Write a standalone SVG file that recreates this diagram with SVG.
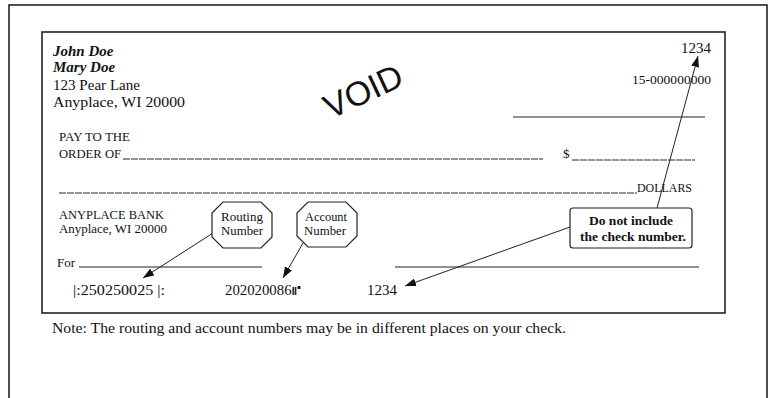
<svg xmlns="http://www.w3.org/2000/svg" width="775" height="398" viewBox="0 0 775 398">
<style>
text{font-family:"Liberation Serif","Times New Roman",serif;fill:#111}
.frame{fill:none;stroke:#222;stroke-width:1.6}
.rule{stroke:#222;stroke-width:1}
.ul{stroke:#222;stroke-width:1;stroke-dasharray:7 1}
.oct{fill:#fff;stroke:#222;stroke-width:1.2}
.conn{stroke:#222;stroke-width:1;fill:none;marker-end:url(#ah)}
.bi{font-weight:bold;font-style:italic}
.b{font-weight:bold}
</style>
<defs>
<marker id="ah" markerUnits="userSpaceOnUse" markerWidth="12" markerHeight="8" refX="11" refY="4" orient="auto">
<path d="M0,0 L11,4 L0,8 z" fill="#111"/>
</marker>
</defs>
<rect class="frame" x="9" y="5" width="758" height="420"/>
<g id="check">
<rect class="frame" x="42" y="32" width="683" height="281"/>
<text class="bi" x="53" y="56" font-size="15">John Doe</text>
<text class="bi" x="53" y="72" font-size="15">Mary Doe</text>
<text x="53" y="90" font-size="15" textLength="87" lengthAdjust="spacingAndGlyphs">123 Pear Lane</text>
<text x="53" y="107" font-size="15" textLength="132" lengthAdjust="spacingAndGlyphs">Anyplace, WI 20000</text>
<text transform="translate(363,91) rotate(-25)" x="0" y="12" font-size="34" text-anchor="middle" style="font-family:'Liberation Sans',Arial,sans-serif">VOID</text>
<text x="711" y="53" font-size="15" text-anchor="end">1234</text>
<text x="632" y="84" font-size="12" textLength="79" lengthAdjust="spacingAndGlyphs">15-000000000</text>
<line class="rule" x1="513" y1="117" x2="705" y2="117"/>
<text x="59" y="141" font-size="12.5" textLength="71" lengthAdjust="spacingAndGlyphs">PAY TO THE</text>
<text x="59" y="158" font-size="12.5" textLength="62" lengthAdjust="spacingAndGlyphs">ORDER OF</text>
<line class="ul" x1="123" y1="159" x2="543" y2="159"/>
<text x="563" y="158" font-size="13">$</text>
<line class="ul" x1="572" y1="160" x2="695" y2="160"/>
<line class="ul" x1="59" y1="193" x2="637" y2="193"/>
<text x="637" y="192" font-size="12.5" textLength="55" lengthAdjust="spacingAndGlyphs">DOLLARS</text>
<text x="59" y="219" font-size="12" textLength="105" lengthAdjust="spacingAndGlyphs">ANYPLACE BANK</text>
<text x="59" y="233" font-size="12.5" textLength="108" lengthAdjust="spacingAndGlyphs">Anyplace, WI 20000</text>
<text x="57" y="267" font-size="13">For</text>
<line class="rule" x1="79" y1="267" x2="262" y2="267"/>
<line class="rule" x1="395" y1="267" x2="699" y2="267"/>
<text x="73" y="295" font-size="14" textLength="92" lengthAdjust="spacingAndGlyphs">|:250250025 |:</text>
<text x="225" y="295" font-size="14" textLength="75" lengthAdjust="spacingAndGlyphs">202020086⑈</text>
<text x="367" y="295" font-size="14" textLength="30" lengthAdjust="spacingAndGlyphs">1234</text>
</g>
<g id="connectors">
<line class="conn" x1="213" y1="233" x2="143" y2="278"/>
<line class="conn" x1="303" y1="243" x2="283" y2="278"/>
<line class="conn" x1="570" y1="227" x2="405" y2="286"/>
<line class="conn" x1="657" y1="208" x2="698" y2="56"/>
</g>
<g id="routing">
<polygon class="oct" points="223,202 261,202 272,213 272,237 261,248 223,248 212,237 212,213"/>
<text x="242" y="221" font-size="12.5" text-anchor="middle" textLength="42" lengthAdjust="spacingAndGlyphs">Routing</text>
<text x="242" y="235" font-size="12.5" text-anchor="middle" textLength="42" lengthAdjust="spacingAndGlyphs">Number</text>
</g>
<g id="account">
<polygon class="oct" points="308,202 346,202 357,213 357,236 346,247 308,247 297,236 297,213"/>
<text x="326" y="221" font-size="12.5" text-anchor="middle" textLength="42" lengthAdjust="spacingAndGlyphs">Account</text>
<text x="325" y="235" font-size="12.5" text-anchor="middle" textLength="42" lengthAdjust="spacingAndGlyphs">Number</text>
</g>
<g id="callout">
<rect x="570" y="208" width="122" height="40" rx="3" fill="#fff" stroke="#222" stroke-width="1.2"/>
<text class="b" x="631" y="225" font-size="12.5" text-anchor="middle" textLength="84" lengthAdjust="spacingAndGlyphs">Do not include</text>
<text class="b" x="633" y="241" font-size="12.5" text-anchor="middle" textLength="106" lengthAdjust="spacingAndGlyphs">the check number.</text>
</g>
<text x="52" y="333" font-size="14" textLength="514" lengthAdjust="spacingAndGlyphs">Note: The routing and account numbers may be in different places on your check.</text>
</svg>
